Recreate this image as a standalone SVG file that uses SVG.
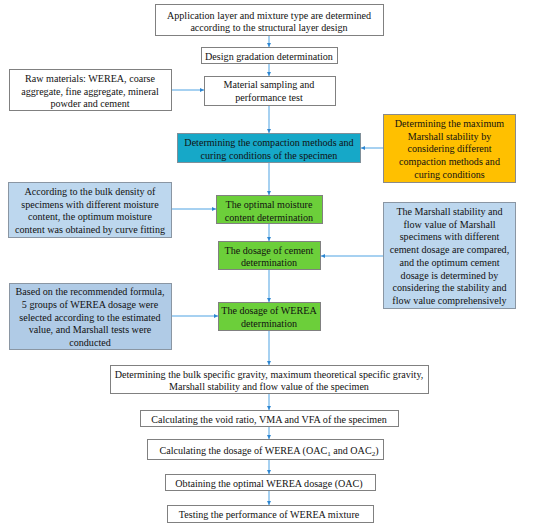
<svg xmlns="http://www.w3.org/2000/svg" width="550" height="530" viewBox="0 0 550 530">
<defs>
<marker id="ah" viewBox="0 0 6 6" refX="6" refY="3" markerWidth="4" markerHeight="4" orient="auto" markerUnits="userSpaceOnUse">
<path d="M0,0 L6,3 L0,6 z" fill="#2E86D1"/>
</marker>
<style>
.b{fill:#fff;stroke:#808080;stroke-width:1}
.teal{fill:#16A8C8;stroke:#7f8f99;stroke-width:1}
.org{fill:#FFC000;stroke:#8a8a8a;stroke-width:1}
.grn{fill:#6CCF3A;stroke:#808080;stroke-width:1}
.lb{fill:#BDD7EE;stroke:#8a96a3;stroke-width:1}
.lb2{fill:#B0CBE6;stroke:#8a96a3;stroke-width:1}
text{font-family:"Liberation Serif","Times New Roman",serif;font-size:10.1px;fill:#111;text-anchor:middle}
.c{stroke:#4FA3E3;stroke-width:1;fill:none;marker-end:url(#ah)}
</style>
</defs>
<g id="connectors">
<line class="c" x1="269" y1="36" x2="269" y2="47"/>
<line class="c" x1="269" y1="64" x2="269" y2="76"/>
<line class="c" x1="172" y1="90" x2="204" y2="90"/>
<line class="c" x1="269" y1="105" x2="269" y2="133"/>
<line class="c" x1="383" y1="148" x2="361" y2="148"/>
<line class="c" x1="269" y1="163" x2="269" y2="195"/>
<line class="c" x1="172" y1="209" x2="216" y2="209"/>
<line class="c" x1="269" y1="224" x2="269" y2="241"/>
<line class="c" x1="383" y1="256" x2="321" y2="256"/>
<line class="c" x1="269" y1="270" x2="269" y2="302"/>
<line class="c" x1="172" y1="316" x2="218" y2="316"/>
<line class="c" x1="269" y1="331" x2="269" y2="365"/>
<line class="c" x1="269" y1="394" x2="269" y2="410"/>
<line class="c" x1="269" y1="427" x2="269" y2="439"/>
<line class="c" x1="269" y1="460" x2="269" y2="474"/>
<line class="c" x1="269" y1="491" x2="269" y2="505"/>
</g>
<g id="n1"><rect class="b" x="155.5" y="4.5" width="228" height="31"/>
<text x="269" y="19">Application layer and mixture type are determined</text>
<text x="269" y="31">according to the structural layer design</text></g>
<g id="n2"><rect class="b" x="201.5" y="47.5" width="136" height="16"/>
<text x="269" y="59.5">Design gradation determination</text></g>
<g id="n3"><rect class="b" x="204.5" y="76.5" width="131" height="29"/>
<text x="269" y="88">Material sampling and</text>
<text x="269" y="101">performance test</text></g>
<g id="n4"><rect class="b" x="9.5" y="69.5" width="162" height="41"/>
<text x="90" y="82">Raw materials: WEREA, coarse</text>
<text x="90" y="94.5">aggregate, fine aggregate, mineral</text>
<text x="90" y="107">powder and cement</text></g>
<g id="n5"><rect class="teal" x="177.5" y="133.5" width="183" height="29"/>
<text x="269" y="146">Determining the compaction methods and</text>
<text x="269" y="158.5">curing conditions of the specimen</text></g>
<g id="n6"><rect class="org" x="383.5" y="114.5" width="132" height="68"/>
<text x="449.5" y="126.5">Determining the maximum</text>
<text x="449.5" y="139.5">Marshall stability by</text>
<text x="449.5" y="152">considering different</text>
<text x="449.5" y="165">compaction methods and</text>
<text x="449.5" y="177.5">curing conditions</text></g>
<g id="n7"><rect class="lb" x="8.5" y="182.5" width="163" height="55"/>
<text x="90" y="194.5">According to the bulk density of</text>
<text x="90" y="207.5">specimens with different moisture</text>
<text x="90" y="220">content, the optimum moisture</text>
<text x="90" y="233">content was obtained by curve fitting</text></g>
<g id="n8"><rect class="grn" x="216.5" y="195.5" width="106" height="28"/>
<text x="269" y="207.5">The optimal moisture</text>
<text x="269" y="220.5">content determination</text></g>
<g id="n9"><rect class="grn" x="218.5" y="241.5" width="102" height="28"/>
<text x="269" y="253.5">The dosage of cement</text>
<text x="269" y="266">determination</text></g>
<g id="n10"><rect class="lb" x="383.5" y="202.5" width="132" height="106"/>
<text x="449.5" y="214.5">The Marshall stability and</text>
<text x="449.5" y="227.5">flow value of Marshall</text>
<text x="449.5" y="240">specimens with different</text>
<text x="449.5" y="253">cement dosage are compared,</text>
<text x="449.5" y="265.5">and the optimum cement</text>
<text x="449.5" y="278.5">dosage is determined by</text>
<text x="449.5" y="291">considering the stability and</text>
<text x="449.5" y="304">flow value comprehensively</text></g>
<g id="n11"><rect class="grn" x="218.5" y="302.5" width="102" height="28"/>
<text x="269" y="314">The dosage of WEREA</text>
<text x="269" y="327">determination</text></g>
<g id="n12"><rect class="lb2" x="9.5" y="283.5" width="162" height="66"/>
<text x="90" y="295">Based on the recommended formula,</text>
<text x="90" y="308">5 groups of WEREA dosage were</text>
<text x="90" y="320.5">selected according to the estimated</text>
<text x="90" y="333">value, and Marshall tests were</text>
<text x="90" y="346">conducted</text></g>
<g id="n13"><rect class="b" x="110.5" y="365.5" width="318" height="28"/>
<text x="269" y="378">Determining the bulk specific gravity, maximum theoretical specific gravity,</text>
<text x="269" y="390">Marshall stability and flow value of the specimen</text></g>
<g id="n14"><rect class="b" x="140.5" y="410.5" width="258" height="16"/>
<text x="269" y="422.5">Calculating the void ratio, VMA and VFA of the specimen</text></g>
<g id="n15"><rect class="b" x="147.5" y="439.5" width="236" height="20"/>
<text x="269" y="453.5">Calculating the dosage of WEREA (OAC<tspan font-size="7" dy="2">1</tspan><tspan dy="-2"> and OAC</tspan><tspan font-size="7" dy="2">2</tspan><tspan dy="-2">)</tspan></text></g>
<g id="n16"><rect class="b" x="165.5" y="474.5" width="210" height="16"/>
<text x="269" y="486.5">Obtaining the optimal WEREA dosage (OAC)</text></g>
<g id="n17"><rect class="b" x="167.5" y="505.5" width="206" height="17"/>
<text x="269" y="518">Testing the performance of WEREA mixture</text></g>
</svg>
